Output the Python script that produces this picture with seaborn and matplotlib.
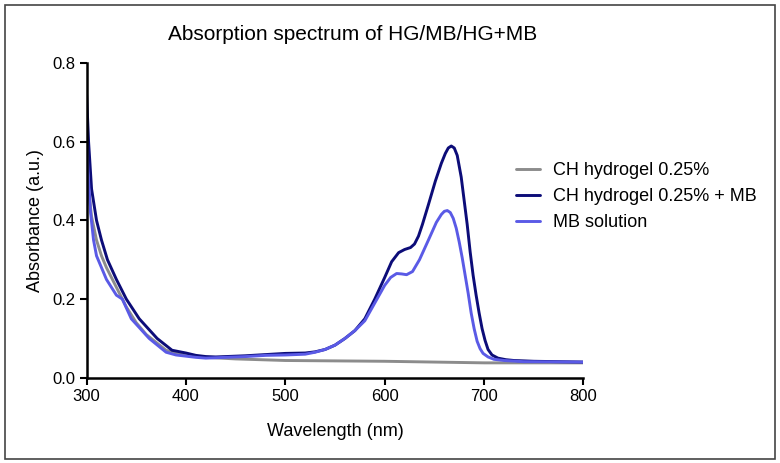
import matplotlib
matplotlib.use("Agg")
import matplotlib.pyplot as plt
import pandas as pd
import seaborn as sns
import numpy as np
from matplotlib.patches import Rectangle

# readings (nm, a.u.)
wl_hg = [300, 302, 305, 310, 315, 320, 330, 340, 350, 360, 370, 380, 390, 400,
         420, 450, 500, 550, 600, 650, 700, 750, 800]
abs_hg = [0.55, 0.48, 0.41, 0.35, 0.31, 0.28, 0.23, 0.18, 0.14, 0.11, 0.09, 0.07,
          0.062, 0.057, 0.052, 0.048, 0.044, 0.043, 0.042, 0.040, 0.038, 0.038, 0.038]

wl_hgmb = [300, 302, 305, 310, 315, 321, 330, 340, 353, 371, 386, 400, 410, 420,
           430, 440, 460, 480, 500, 520, 530, 540, 550, 560, 570, 580, 590, 600,
           607, 614, 620, 626, 630, 634, 638, 644, 651, 657, 661, 664, 667, 670,
           673, 677, 680, 683, 686, 689, 692, 695, 698, 701, 704, 708, 714, 722,
           730, 750, 800]
abs_hgmb = [0.72, 0.60, 0.48, 0.40, 0.35, 0.30, 0.25, 0.20, 0.15, 0.10, 0.07, 0.063,
            0.057, 0.054, 0.053, 0.054, 0.056, 0.059, 0.062, 0.063, 0.066, 0.072,
            0.083, 0.10, 0.12, 0.15, 0.20, 0.255, 0.295, 0.318, 0.326, 0.331, 0.34,
            0.36, 0.39, 0.44, 0.50, 0.545, 0.57, 0.584, 0.589, 0.584, 0.565, 0.51,
            0.45, 0.39, 0.32, 0.26, 0.21, 0.165, 0.125, 0.095, 0.072, 0.058, 0.05,
            0.046, 0.044, 0.042, 0.040]

wl_mb = [300, 302, 304, 307, 310, 315, 320, 330, 336, 345, 363, 380, 390, 400,
         410, 420, 440, 460, 480, 500, 520, 530, 540, 550, 560, 570, 580, 590,
         600, 606, 612, 617, 622, 628, 635, 644, 652, 657, 660, 663, 666, 669,
         672, 675, 678, 681, 684, 687, 690, 693, 696, 699, 704, 710, 720, 740, 800]
abs_mb = [0.60, 0.50, 0.42, 0.35, 0.31, 0.28, 0.25, 0.21, 0.20, 0.15, 0.10, 0.065,
          0.058, 0.055, 0.052, 0.050, 0.052, 0.054, 0.057, 0.058, 0.060, 0.065,
          0.072, 0.083, 0.10, 0.12, 0.145, 0.19, 0.235, 0.255, 0.265, 0.264, 0.262,
          0.27, 0.30, 0.35, 0.395, 0.415, 0.423, 0.425, 0.42, 0.405, 0.38, 0.345,
          0.305, 0.26, 0.215, 0.165, 0.125, 0.093, 0.074, 0.062, 0.053, 0.047,
          0.044, 0.041, 0.040]

labels = ["CH hydrogel 0.25%", "CH hydrogel 0.25% + MB", "MB solution"]
colors = ["#8c8c8c", "#0c0c78", "#5a5ae6"]

df = pd.concat([
    pd.DataFrame({"wl": wl_hg, "A": abs_hg, "sample": labels[0]}),
    pd.DataFrame({"wl": wl_hgmb, "A": abs_hgmb, "sample": labels[1]}),
    pd.DataFrame({"wl": wl_mb, "A": abs_mb, "sample": labels[2]}),
])

sns.set_style("ticks")
plt.rcParams['font.family'] = ['Liberation Sans', 'DejaVu Sans']
plt.rcParams['text.color'] = 'black'
plt.rcParams['axes.labelcolor'] = 'black'
plt.rcParams['xtick.color'] = 'black'
plt.rcParams['ytick.color'] = 'black'

fig = plt.figure(figsize=(7.8, 4.63), dpi=100)
ax = fig.add_axes([0.111, 0.184, 0.637, 0.680])

sns.lineplot(ax=ax, data=df, x="wl", y="A", hue="sample", hue_order=labels,
             palette=dict(zip(labels, colors)), linewidth=2.1, estimator=None)

ax.set_xlim(300, 800)
ax.set_ylim(0, 0.8)
ax.set_xticks([300, 400, 500, 600, 700, 800])
ax.set_yticks([0.0, 0.2, 0.4, 0.6, 0.8])
ax.yaxis.set_major_formatter(matplotlib.ticker.FormatStrFormatter('%.1f'))
ax.tick_params(axis='both', labelsize=12, width=1.5, length=5, pad=3)
for s in ['left', 'bottom']:
    ax.spines[s].set_linewidth(1.8)
    ax.spines[s].set_color('black')
sns.despine(ax=ax)
ax.set_xlabel("Wavelength (nm)", fontsize=13, labelpad=14)
ax.set_ylabel("Absorbance (a.u.)", fontsize=13, labelpad=6)
fig.text(0.452, 0.926, "Absorption spectrum of HG/MB/HG+MB", ha='center', va='center', fontsize=15)

ax.legend(loc='center left', bbox_to_anchor=(0.661, 0.575), bbox_transform=fig.transFigure,
          frameon=False, fontsize=13, handlelength=1.33, handletextpad=0.72, labelspacing=0.5,
          borderaxespad=0, borderpad=0)

fig.patches.append(Rectangle((0.006, 0.009), 0.988, 0.981, transform=fig.transFigure,
                             fill=False, edgecolor='#444444', linewidth=1.2))

fig.savefig("out.png", dpi=100)
